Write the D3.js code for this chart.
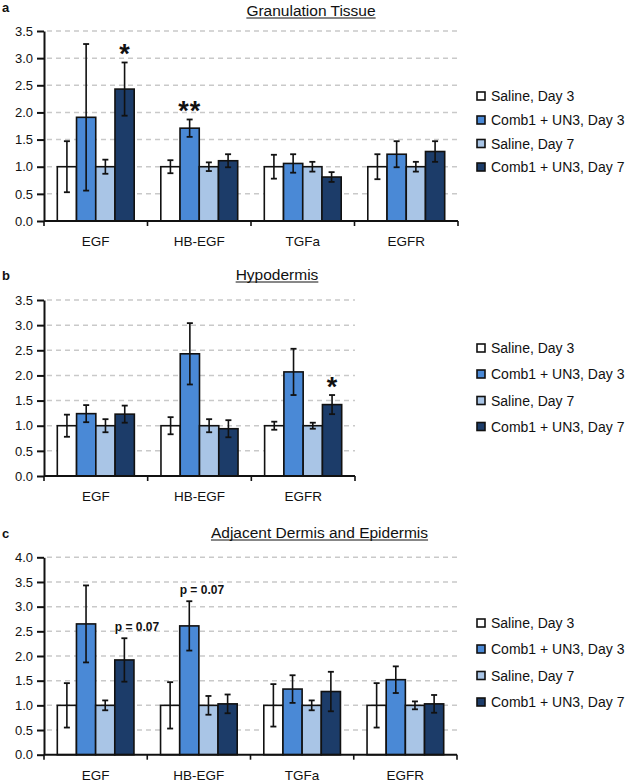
<!DOCTYPE html>
<html><head><meta charset="utf-8">
<script src="https://cdn.jsdelivr.net/npm/d3@7"></script>
<style>
html,body{margin:0;padding:0;background:#fff;}
svg{display:block;font-family:"Liberation Sans",Arial,sans-serif;}
</style></head>
<body>
<svg id="chart" width="638" height="782"></svg>
<script>
// ---- data ----
const seriesNames = ["Saline, Day 3", "Comb1 + UN3, Day 3", "Saline, Day 7", "Comb1 + UN3, Day 7"];
const seriesColors = ["#ffffff", "#4a89d6", "#a9c5e6", "#1c3c69"];

const catsA = ["EGF", "HB-EGF", "TGFa", "EGFR"];
const meanA = [[1.0, 1.91, 1.0, 2.43], [1.0, 1.71, 1.0, 1.11], [1.0, 1.06, 1.0, 0.81], [1.0, 1.23, 1.0, 1.28]];
const errA  = [[0.47, 1.35, 0.13, 0.49], [0.12, 0.16, 0.08, 0.12], [0.22, 0.17, 0.09, 0.09], [0.23, 0.24, 0.09, 0.19]];
const ticksA = [0, 0.5, 1.0, 1.5, 2.0, 2.5, 3.0, 3.5];

const catsB = ["EGF", "HB-EGF", "EGFR"];
const meanB = [[1.0, 1.24, 1.0, 1.23], [1.0, 2.43, 1.0, 0.94], [1.0, 2.07, 1.0, 1.42]];
const errB  = [[0.22, 0.17, 0.13, 0.17], [0.17, 0.61, 0.13, 0.17], [0.08, 0.46, 0.06, 0.19]];
const ticksB = [0, 0.5, 1.0, 1.5, 2.0, 2.5, 3.0, 3.5];

const catsC = ["EGF", "HB-EGF", "TGFa", "EGFR"];
const meanC = [[1.0, 2.65, 1.0, 1.92], [1.0, 2.61, 1.0, 1.03], [1.0, 1.33, 1.0, 1.28], [1.0, 1.52, 1.0, 1.03]];
const errC  = [[0.45, 0.78, 0.10, 0.44], [0.47, 0.50, 0.19, 0.19], [0.43, 0.28, 0.10, 0.40], [0.45, 0.27, 0.08, 0.18]];
const ticksC = [0, 0.5, 1.0, 1.5, 2.0, 2.5, 3.0, 3.5, 4.0];

const notesA = [{cat: 0, s: 3, text: "*"}, {cat: 1, s: 1, text: "**"}];
const notesB = [{cat: 2, s: 3, text: "*"}];
const notesC = [{cat: 0, s: 3, text: "p = 0.07"}, {cat: 1, s: 1, text: "p = 0.07"}];

// ---- layout per panel ----
const panels = [
  {letter: "a", title: "Granulation Tissue", cats: catsA, mean: meanA, err: errA, ticks: ticksA, notes: notesA,
   x0: 44, x1: 458, y0: 221, yTop: 31, titleX: 311, titleY: 16, letterY: 12, legendY: [96, 120, 143.5, 167]},
  {letter: "b", title: "Hypodermis", cats: catsB, mean: meanB, err: errB, ticks: ticksB, notes: notesB,
   x0: 44, x1: 355, y0: 476, yTop: 300, titleX: 277, titleY: 280, letterY: 280, legendY: [348, 374, 400.5, 426.5]},
  {letter: "c", title: "Adjacent Dermis and Epidermis", cats: catsC, mean: meanC, err: errC, ticks: ticksC, notes: notesC,
   x0: 44, x1: 457, y0: 754.7, yTop: 557.3, titleX: 319.5, titleY: 538, letterY: 538, legendY: [623, 649, 675.5, 702]}
];

const svg = d3.select("#chart");

panels.forEach(p => {
  const g = svg.append("g");
  const maxT = p.ticks[p.ticks.length - 1];
  const y = d3.scaleLinear().domain([0, maxT]).range([p.y0, p.yTop]);
  const x = d3.scaleBand().domain(p.cats).range([p.x0, p.x1]).padding(0);
  const pad = 13.3;
  const xs = d3.scaleBand().domain(d3.range(4)).range([pad, x.bandwidth() - pad]).padding(0);

  // letter
  g.append("text").attr("x", 2).attr("y", p.letterY).attr("font-size", 13).attr("font-weight", "bold")
    .attr("fill", "#111").text(p.letter);
  // title with underline
  const t = g.append("text").attr("x", p.titleX).attr("y", p.titleY).attr("text-anchor", "middle")
    .attr("font-size", 15.5).attr("fill", "#111").text(p.title);
  const tw = t.node().getComputedTextLength();
  g.append("line").attr("x1", p.titleX - tw / 2).attr("x2", p.titleX + tw / 2)
    .attr("y1", p.titleY + 2).attr("y2", p.titleY + 2).attr("stroke", "#111").attr("stroke-width", 1);

  // gridlines
  g.append("g").selectAll("line").data(p.ticks.filter(d => d > 0)).join("line")
    .attr("x1", p.x0 + 3).attr("x2", p.x1).attr("y1", d => y(d)).attr("y2", d => y(d))
    .attr("stroke", "#c9c9c9").attr("stroke-width", 1.5).attr("stroke-dasharray", "5,4");

  // y axis
  const yAxis = d3.axisLeft(y).tickValues(p.ticks).tickFormat(d3.format(".1f")).tickSizeInner(7).tickSizeOuter(0).tickPadding(4);
  const ya = g.append("g").attr("transform", `translate(${p.x0},0)`).call(yAxis);
  ya.select(".domain").attr("stroke", "#111").attr("stroke-width", 2);
  ya.selectAll(".tick line").attr("stroke", "#111").attr("stroke-width", 2);
  ya.selectAll(".tick text").attr("font-size", 13).attr("fill", "#111")
    .attr("font-family", "'Liberation Sans', Arial, sans-serif");

  // bars
  const groups = g.append("g").selectAll("g").data(p.cats).join("g")
    .attr("transform", d => `translate(${x(d)},0)`);
  groups.each(function(cat, ci) {
    const gg = d3.select(this);
    const vals = p.mean[ci].map((m, si) => ({m, e: p.err[ci][si], si}));
    gg.selectAll("rect").data(vals).join("rect")
      .attr("x", d => xs(d.si)).attr("width", xs.bandwidth())
      .attr("y", d => y(d.m)).attr("height", d => y(0) - y(d.m))
      .attr("fill", d => seriesColors[d.si]).attr("stroke", "#111").attr("stroke-width", 1.6);
    const eb = gg.selectAll("g.eb").data(vals).join("g").attr("class", "eb");
    const cx = d => xs(d.si) + xs.bandwidth() / 2;
    eb.append("line").attr("x1", cx).attr("x2", cx).attr("y1", d => y(d.m + d.e)).attr("y2", d => y(d.m - d.e))
      .attr("stroke", "#111").attr("stroke-width", 1.6);
    eb.append("line").attr("x1", d => cx(d) - 3).attr("x2", d => cx(d) + 3).attr("y1", d => y(d.m + d.e)).attr("y2", d => y(d.m + d.e))
      .attr("stroke", "#111").attr("stroke-width", 1.8);
    eb.append("line").attr("x1", d => cx(d) - 3).attr("x2", d => cx(d) + 3).attr("y1", d => y(d.m - d.e)).attr("y2", d => y(d.m - d.e))
      .attr("stroke", "#111").attr("stroke-width", 1.8);
  });

  // x axis
  g.append("line").attr("x1", p.x0).attr("x2", p.x1).attr("y1", y(0)).attr("y2", y(0))
    .attr("stroke", "#111").attr("stroke-width", 2);
  const bounds = p.cats.map(c => x(c)).concat([p.x1]);
  g.append("g").selectAll("line").data(bounds).join("line")
    .attr("x1", d => d).attr("x2", d => d).attr("y1", y(0)).attr("y2", y(0) + 5)
    .attr("stroke", "#111").attr("stroke-width", 1.6);
  g.append("g").selectAll("text").data(p.cats).join("text")
    .attr("x", d => x(d) + x.bandwidth() / 2).attr("y", y(0) + 25)
    .attr("text-anchor", "middle").attr("font-size", 13.5).attr("fill", "#111").text(d => d);

  // annotations
  p.notes.forEach(n => {
    const cat = p.cats[n.cat];
    const m = p.mean[n.cat][n.s], e = p.err[n.cat][n.s];
    const top = y(m + e);
    if (n.text.startsWith("p")) {
      g.append("text").attr("x", x(cat) + xs(n.s)).attr("y", top - 7)
        .attr("font-size", 12).attr("font-weight", "bold").attr("fill", "#111").text(n.text);
    } else {
      g.append("text").attr("x", x(cat) + xs(n.s) + xs.bandwidth() / 2).attr("y", top + 1)
        .attr("text-anchor", "middle").attr("font-size", 27).attr("font-weight", "bold").attr("fill", "#111")
        .attr("letter-spacing", n.text.length > 1 ? 1 : 0).text(n.text);
    }
  });

  // legend
  const lg = g.append("g").selectAll("g").data(seriesNames).join("g")
    .attr("transform", (d, i) => `translate(477,${p.legendY[i]})`);
  lg.append("rect").attr("x", 0).attr("y", -4).attr("width", 8).attr("height", 8)
    .attr("fill", (d, i) => seriesColors[i]).attr("stroke", "#111").attr("stroke-width", 1.6);
  lg.append("text").attr("x", 14).attr("y", 5).attr("font-size", 14).attr("fill", "#111").text(d => d);
});
</script>
</body></html>
